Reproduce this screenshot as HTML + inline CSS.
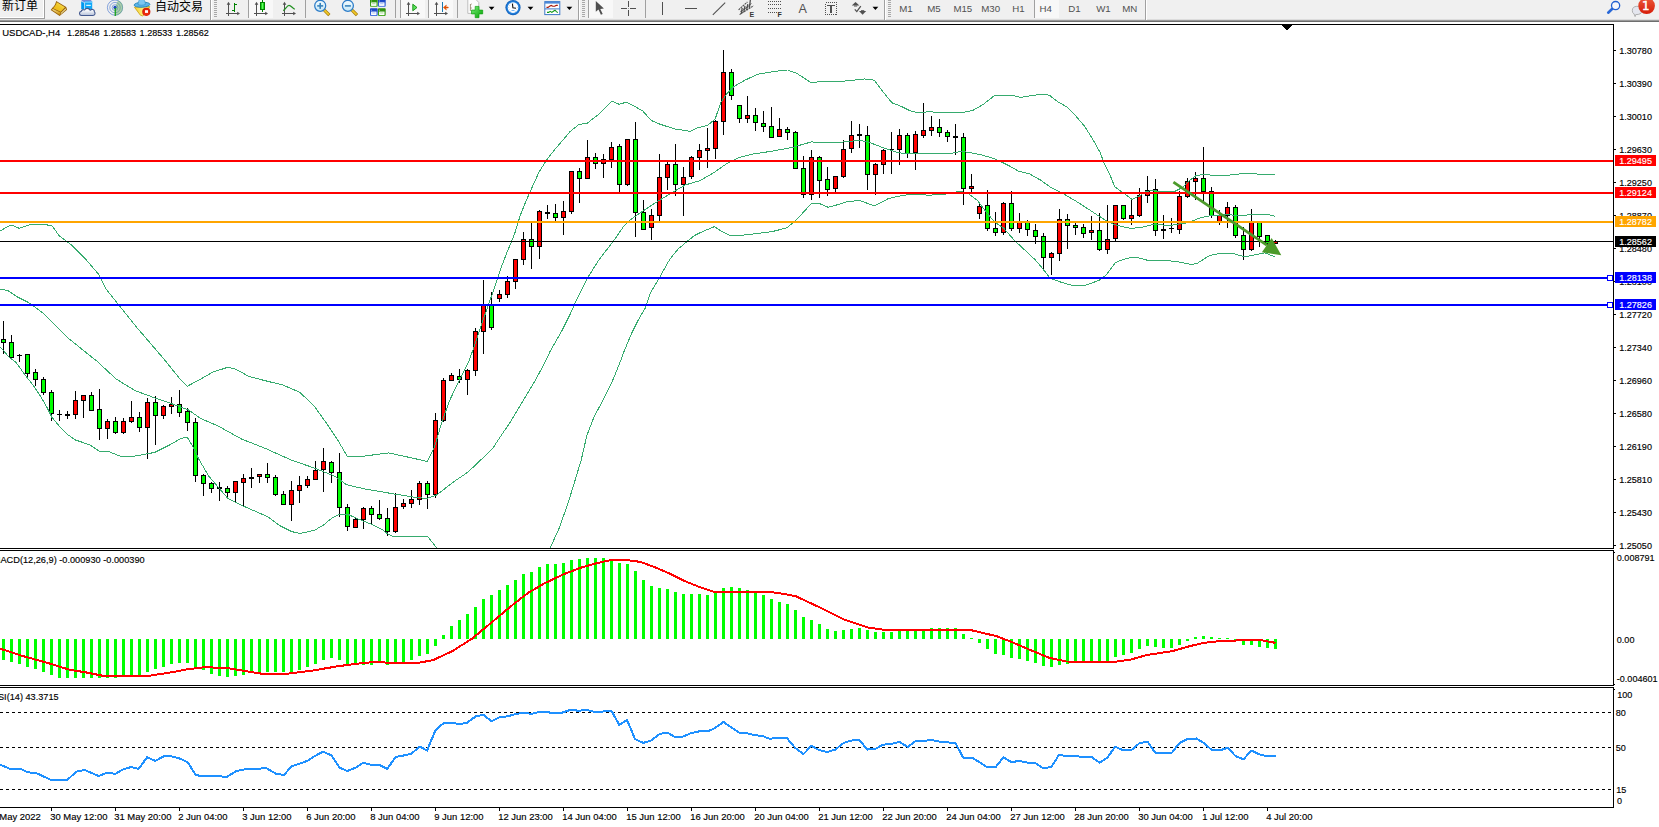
<!DOCTYPE html>
<html><head><meta charset="utf-8"><title>USDCAD-,H4</title>
<style>
html,body{margin:0;padding:0;background:#fff}
body{width:1659px;height:827px;overflow:hidden;position:relative;font-family:"Liberation Sans","Noto Sans CJK SC",sans-serif}
#chart{position:absolute;left:0;top:0}
</style></head><body>
<svg id="chart" width="1659" height="827" viewBox="0 0 1659 827">
<defs>
<linearGradient id="gold" x1="0" y1="0" x2="1" y2="1"><stop offset="0" stop-color="#f8d040"/><stop offset="0.5" stop-color="#f0b800"/><stop offset="1" stop-color="#c08818"/></linearGradient>
<linearGradient id="lens" x1="0" y1="0" x2="0" y2="1"><stop offset="0" stop-color="#f4fcff"/><stop offset="1" stop-color="#c4e6f6"/></linearGradient>
<linearGradient id="badge" x1="0" y1="0" x2="0" y2="1"><stop offset="0" stop-color="#ec5a3a"/><stop offset="1" stop-color="#d61c08"/></linearGradient>
<linearGradient id="gcan" x1="0" y1="0" x2="1" y2="0"><stop offset="0" stop-color="#00c000"/><stop offset="0.5" stop-color="#60ff60"/><stop offset="1" stop-color="#00c000"/></linearGradient>
<linearGradient id="gplus" x1="0" y1="0" x2="1" y2="1"><stop offset="0" stop-color="#7cf07c"/><stop offset="1" stop-color="#00a000"/></linearGradient>
<linearGradient id="bluet" x1="0" y1="0" x2="0" y2="1"><stop offset="0" stop-color="#1440c0"/><stop offset="1" stop-color="#3c6ce0"/></linearGradient>
<linearGradient id="greent" x1="0" y1="0" x2="0" y2="1"><stop offset="0" stop-color="#2a8c0c"/><stop offset="1" stop-color="#40a81c"/></linearGradient>
<radialGradient id="clockr" cx="0.5" cy="0.5" r="0.5"><stop offset="0.7" stop-color="#2a8ae6"/><stop offset="1" stop-color="#0c5cb8"/></radialGradient>
</defs>
<g shape-rendering="crispEdges">
<rect x="0" y="0" width="1659" height="19" fill="#f0f0f0"/>
<rect x="0" y="19" width="1659" height="1" fill="#dcdcdc"/>
<rect x="0" y="20" width="1659" height="1" fill="#9a9a9a"/>
<rect x="0" y="21" width="1659" height="1" fill="#6e6e6e"/>
<rect x="0" y="22" width="1659" height="2" fill="#ffffff"/>
<rect x="0" y="17" width="44" height="1" fill="#ffffff"/>
<rect x="43" y="0" width="1" height="18" fill="#ffffff"/>
<rect x="0" y="18" width="45" height="1" fill="#a0a0a0"/>
<rect x="44" y="0" width="1" height="19" fill="#a0a0a0"/>
<rect x="210" y="0" width="1" height="20" fill="#a0a0a0"/>
<rect x="211" y="0" width="1" height="20" fill="#ffffff"/>
<rect x="214" y="0" width="3" height="1" fill="#a8a8a8"/>
<rect x="214" y="2" width="3" height="1" fill="#a8a8a8"/>
<rect x="214" y="4" width="3" height="1" fill="#a8a8a8"/>
<rect x="214" y="6" width="3" height="1" fill="#a8a8a8"/>
<rect x="214" y="8" width="3" height="1" fill="#a8a8a8"/>
<rect x="214" y="10" width="3" height="1" fill="#a8a8a8"/>
<rect x="214" y="12" width="3" height="1" fill="#a8a8a8"/>
<rect x="214" y="14" width="3" height="1" fill="#a8a8a8"/>
<rect x="214" y="16" width="3" height="1" fill="#a8a8a8"/>
<rect x="248" y="0" width="1" height="18" fill="#a0a0a0"/>
<rect x="249" y="0" width="24" height="18" fill="#f8f8f8"/>
<rect x="305" y="0" width="1" height="18" fill="#a0a0a0"/>
<rect x="395" y="0" width="1" height="18" fill="#a0a0a0"/>
<rect x="400" y="0" width="1" height="18" fill="#a0a0a0"/>
<rect x="401" y="0" width="24" height="18" fill="#f8f8f8"/>
<rect x="428" y="0" width="1" height="18" fill="#a0a0a0"/>
<rect x="429" y="0" width="24" height="18" fill="#f8f8f8"/>
<rect x="457" y="0" width="1" height="18" fill="#a0a0a0"/>
<rect x="578" y="0" width="1" height="20" fill="#a0a0a0"/>
<rect x="579" y="0" width="1" height="20" fill="#ffffff"/>
<rect x="582" y="0" width="3" height="1" fill="#a8a8a8"/>
<rect x="582" y="2" width="3" height="1" fill="#a8a8a8"/>
<rect x="582" y="4" width="3" height="1" fill="#a8a8a8"/>
<rect x="582" y="6" width="3" height="1" fill="#a8a8a8"/>
<rect x="582" y="8" width="3" height="1" fill="#a8a8a8"/>
<rect x="582" y="10" width="3" height="1" fill="#a8a8a8"/>
<rect x="582" y="12" width="3" height="1" fill="#a8a8a8"/>
<rect x="582" y="14" width="3" height="1" fill="#a8a8a8"/>
<rect x="582" y="16" width="3" height="1" fill="#a8a8a8"/>
<rect x="588" y="0" width="1" height="18" fill="#a0a0a0"/>
<rect x="589" y="0" width="24" height="18" fill="#f8f8f8"/>
<rect x="645" y="0" width="1" height="18" fill="#a0a0a0"/>
<rect x="884" y="0" width="1" height="20" fill="#a0a0a0"/>
<rect x="885" y="0" width="1" height="20" fill="#ffffff"/>
<rect x="888" y="0" width="3" height="1" fill="#a8a8a8"/>
<rect x="888" y="2" width="3" height="1" fill="#a8a8a8"/>
<rect x="888" y="4" width="3" height="1" fill="#a8a8a8"/>
<rect x="888" y="6" width="3" height="1" fill="#a8a8a8"/>
<rect x="888" y="8" width="3" height="1" fill="#a8a8a8"/>
<rect x="888" y="10" width="3" height="1" fill="#a8a8a8"/>
<rect x="888" y="12" width="3" height="1" fill="#a8a8a8"/>
<rect x="888" y="14" width="3" height="1" fill="#a8a8a8"/>
<rect x="888" y="16" width="3" height="1" fill="#a8a8a8"/>
<rect x="1034" y="0" width="1" height="18" fill="#a0a0a0"/>
<rect x="1035" y="0" width="24" height="18" fill="#f8f8f8"/>
<rect x="1145" y="0" width="1" height="20" fill="#a0a0a0"/>
<rect x="1146" y="0" width="1" height="20" fill="#ffffff"/>
</g>
<g font-family="Liberation Sans, Noto Sans CJK SC, sans-serif" font-size="12" fill="#000">
<text x="2" y="9.6">新订单</text>
<text x="155" y="10.6">自动交易</text>
</g>
<linearGradient id="gface" x1="0" y1="1" x2="1" y2="0"><stop offset="0" stop-color="#e8b010"/><stop offset="0.55" stop-color="#f0c828"/><stop offset="1" stop-color="#fff080"/></linearGradient>
<linearGradient id="gspine" x1="0" y1="0" x2="0.4" y2="1"><stop offset="0" stop-color="#f8e498"/><stop offset="1" stop-color="#d09a18"/></linearGradient>
<path d="M56.2,0.9 L66.2,6.9 L67.1,9.7 L59.6,16 L50.7,9.9 L52.6,7.6 C54.6,6 55.4,3.6 56.2,0.9 Z" fill="#96600a"/>
<path d="M56.8,2.3 L64.9,7.3 L60.7,11.7 L53,8.3 C55,6.6 56,4.6 56.8,2.3 Z" fill="url(#gface)"/>
<path d="M51.9,9.7 L53,8.9 L60.5,12.4 L59.5,14.9 Z" fill="url(#gspine)"/>
<path d="M61.2,12.6 L65.5,8.2 L66.2,9.6 L60.3,14.8 Z" fill="#e6d48c"/>
<linearGradient id="cloud" x1="0" y1="0" x2="0" y2="1"><stop offset="0.2" stop-color="#ffffff"/><stop offset="1" stop-color="#b4c0d8"/></linearGradient>
<path d="M81.2,1.2 L84.6,2.6 L84.6,10 L81.2,9 Z" fill="#0098f0"/>
<path d="M81.2,1.2 L84.6,2.6 L92.2,1.4 L90,-1 L82.5,-1 Z" fill="#7088d8"/>
<rect x="84.8" y="1.6" width="7.4" height="8" fill="#10a8f8"/>
<rect x="84.8" y="1.4" width="7.4" height="1.6" fill="#60c8ff"/>
<path d="M81.4,1.3 L84.6,2.7 L84.6,9.6" fill="none" stroke="#e8f8ff" stroke-width="0.6"/>
<rect x="86.2" y="4.8" width="4.6" height="1.1" fill="#f0faff"/>
<path d="M81.5,15.5 C79.2,15.5 78.5,12 81.2,11.4 C81.4,9.8 83.5,9.4 84.8,9.9 C85.6,8 88.9,7.7 90.2,10.3 C91.6,8.6 94.7,9.3 94.4,11.9 C95.7,13 95,15.5 92.8,15.5 Z" fill="url(#cloud)" stroke="#44598f" stroke-width="1.1" stroke-linejoin="round"/>
<g fill="none" stroke-width="1">
<circle cx="115" cy="7.6" r="7.6" stroke="#2860c8" stroke-opacity="0.55"/>
<circle cx="115" cy="7.6" r="5.2" stroke="#2860c8" stroke-opacity="0.5"/>
<circle cx="115" cy="7.6" r="2.9" stroke="#2860c8" stroke-opacity="0.5"/>
</g>
<path d="M115,7.6 L115,15.6 A8,8 0 0 0 123,7.6 A8,8 0 0 0 118,0.3 Z" fill="#58a858" fill-opacity="0.45"/>
<circle cx="115" cy="7.4" r="1.6" fill="#1848c0"/>
<rect x="114.6" y="8" width="1.3" height="8" fill="#18a018"/>
<linearGradient id="cone" x1="0" y1="0" x2="1" y2="0"><stop offset="0" stop-color="#f4cc30"/><stop offset="0.7" stop-color="#fff88c"/><stop offset="1" stop-color="#f0c020"/></linearGradient>
<path d="M134.4,7.2 L149.7,6.5 L147,12.6 L142.6,15.9 L140.4,15.2 Z" fill="url(#cone)" stroke="#c8a010" stroke-width="0.8" stroke-linejoin="round"/>
<ellipse cx="142" cy="4.7" rx="7.9" ry="2.5" fill="#5cb4ea" stroke="#2484b8" stroke-width="0.9" transform="rotate(-3 142 4.7)"/>
<path d="M138,4.6 C138,2.4 138.9,0.5 139.6,-0.6 L143.7,-0.6 C144.5,0.5 145.4,2.4 145.4,4.4 C143,5.4 140.4,5.4 138,4.6 Z" fill="#7cc6f2" stroke="#2c8cc0" stroke-width="0.6"/>
<circle cx="146.3" cy="11.8" r="4.1" fill="#d82008"/>
<circle cx="146.3" cy="12.4" r="3" fill="#f03010" fill-opacity="0.8"/>
<rect x="145" y="10.2" width="3" height="2.7" fill="#fff"/>
<g fill="#505050" stroke="none" shape-rendering="crispEdges"><rect x="228" y="3" width="1" height="13"/><rect x="226" y="13" width="13" height="1"/></g>
<polygon points="228.5,1.8 226.7,4.8 230.3,4.8" fill="#505050"/>
<polygon points="240.0,13.5 237.2,11.7 237.2,15.3" fill="#505050"/>
<g fill="#008000" shape-rendering="crispEdges"><rect x="234" y="3" width="1" height="9"/><rect x="235" y="4" width="2" height="1"/><rect x="232" y="10" width="2" height="1"/></g>
<g fill="#505050" stroke="none" shape-rendering="crispEdges"><rect x="256" y="3" width="1" height="13"/><rect x="254" y="13" width="13" height="1"/></g>
<polygon points="256.5,1.8 254.7,4.8 258.3,4.8" fill="#505050"/>
<polygon points="268.0,13.5 265.2,11.7 265.2,15.3" fill="#505050"/>
<g shape-rendering="crispEdges"><rect x="262" y="0" width="1" height="12" fill="#008000"/><rect x="260" y="2" width="5" height="8" fill="#008000"/><rect x="261" y="3" width="3" height="6" fill="url(#gcan)"/></g>
<g fill="#505050" stroke="none" shape-rendering="crispEdges"><rect x="284" y="3" width="1" height="13"/><rect x="282" y="13" width="13" height="1"/></g>
<polygon points="284.5,1.8 282.7,4.8 286.3,4.8" fill="#505050"/>
<polygon points="296.0,13.5 293.2,11.7 293.2,15.3" fill="#505050"/>
<path d="M283.2,10.6 C285.5,9.5 287,5.4 289,5.4 C291,5.4 292.5,8.2 294.8,9.2" fill="none" stroke="#209020" stroke-width="1.2"/>
<line x1="324.5" y1="10.3" x2="328.2" y2="14.0" stroke="#a07808" stroke-width="3.2" stroke-linecap="square"/>
<line x1="324.5" y1="10.3" x2="328.2" y2="14.0" stroke="#f0c828" stroke-width="1.9" stroke-linecap="square"/>
<circle cx="320.2" cy="5.8" r="5.5" fill="url(#lens)" stroke="#2c7cc8" stroke-width="1.25"/>
<rect x="317.2" y="5.1" width="6" height="1.6" fill="#3a84bc"/>
<rect x="319.4" y="2.9" width="1.6" height="6" fill="#3a84bc"/>
<line x1="352.2" y1="10.3" x2="355.9" y2="14.0" stroke="#a07808" stroke-width="3.2" stroke-linecap="square"/>
<line x1="352.2" y1="10.3" x2="355.9" y2="14.0" stroke="#f0c828" stroke-width="1.9" stroke-linecap="square"/>
<circle cx="347.9" cy="5.8" r="5.5" fill="url(#lens)" stroke="#2c7cc8" stroke-width="1.25"/>
<rect x="344.9" y="5.1" width="6" height="1.6" fill="#3a84bc"/>
<rect x="370.0" y="-1.0" width="7.7" height="7.7" rx="0.8" fill="url(#greent)"/>
<rect x="371.1" y="2.4" width="5.4" height="3.5" fill="#fff"/>
<rect x="372.1" y="3.3" width="3.4" height="0.9" fill="#4cb828" fill-opacity="0.55"/>
<rect x="371.2" y="0.6" width="0.8" height="0.8" fill="#fff" fill-opacity="0.8"/>
<rect x="378.0" y="-1.0" width="7.7" height="7.7" rx="0.8" fill="url(#bluet)"/>
<rect x="379.1" y="2.4" width="5.4" height="3.5" fill="#fff"/>
<rect x="380.1" y="3.3" width="3.4" height="0.9" fill="#4a80e8" fill-opacity="0.55"/>
<rect x="379.2" y="0.6" width="0.8" height="0.8" fill="#fff" fill-opacity="0.8"/>
<rect x="370.0" y="8.2" width="7.7" height="7.7" rx="0.8" fill="url(#bluet)"/>
<rect x="371.1" y="11.6" width="5.4" height="3.5" fill="#fff"/>
<rect x="372.1" y="12.5" width="3.4" height="0.9" fill="#4a80e8" fill-opacity="0.55"/>
<rect x="371.2" y="9.8" width="0.8" height="0.8" fill="#fff" fill-opacity="0.8"/>
<rect x="378.0" y="8.2" width="7.7" height="7.7" rx="0.8" fill="url(#greent)"/>
<rect x="379.1" y="11.6" width="5.4" height="3.5" fill="#fff"/>
<rect x="380.1" y="12.5" width="3.4" height="0.9" fill="#4cb828" fill-opacity="0.55"/>
<rect x="379.2" y="9.8" width="0.8" height="0.8" fill="#fff" fill-opacity="0.8"/>
<g fill="#505050" stroke="none" shape-rendering="crispEdges"><rect x="408" y="3" width="1" height="13"/><rect x="406" y="13" width="13" height="1"/></g>
<polygon points="408.5,1.8 406.7,4.8 410.3,4.8" fill="#505050"/>
<polygon points="420.0,13.5 417.2,11.7 417.2,15.3" fill="#505050"/>
<polygon points="412.8,4.2 417,7.5 412.8,10.8" fill="#58e058" stroke="#109010" stroke-width="0.9"/>
<g fill="#505050" stroke="none" shape-rendering="crispEdges"><rect x="436" y="3" width="1" height="13"/><rect x="434" y="13" width="13" height="1"/></g>
<polygon points="436.5,1.8 434.7,4.8 438.3,4.8" fill="#505050"/>
<polygon points="448.0,13.5 445.2,11.7 445.2,15.3" fill="#505050"/>
<rect x="442" y="2" width="1" height="10" fill="#1878b0" shape-rendering="crispEdges"/>
<polygon points="443.4,7.5 446.4,5 445.8,7 448.2,7 448.2,8 445.8,8 446.4,10" fill="#e05000" stroke="#e05000" stroke-width="0.5"/>
<path d="M467.8,-1 L475.5,-1 L478.8,2.5 L478.8,13.4 L467.8,13.4 Z" fill="#fdfdfd" stroke="#b8b8b8" stroke-width="0.9"/>
<path d="M470.4,4 l0,7 M470.4,5 l1.4,-1.2 M470.4,8 l1.4,0" stroke="#807050" stroke-width="0.7" fill="none"/>
<path d="M475.2,6.4 h3.8 v3.7 h3.7 v3.8 h-3.7 v3.8 h-3.8 v-3.8 h-3.7 v-3.8 h3.7 z" fill="url(#gplus)" stroke="#10a010" stroke-width="0.7"/>
<polygon points="488.7,6.7 494.5,6.7 491.6,10" fill="#000"/>
<circle cx="513" cy="7.6" r="7.6" fill="url(#clockr)"/>
<circle cx="513" cy="7.6" r="5.3" fill="#fafcff"/>
<path d="M512.4,3.6 L512.9,7.8 L516,8.2" fill="none" stroke="#101010" stroke-width="1.1"/>
<g fill="#8090a0"><circle cx="513" cy="3.2" r="0.4"/><circle cx="517.4" cy="7.6" r="0.4"/><circle cx="508.6" cy="7.6" r="0.4"/><circle cx="510.8" cy="3.8" r="0.3"/><circle cx="509.2" cy="5.4" r="0.3"/><circle cx="509.2" cy="9.8" r="0.3"/><circle cx="510.8" cy="11.4" r="0.3"/><circle cx="515.2" cy="11.4" r="0.3"/><circle cx="516.8" cy="9.8" r="0.3"/></g>
<rect x="511.5" y="10.2" width="3" height="0.8" fill="#58a8f0"/>
<polygon points="527.6,6.7 533.4,6.7 530.5,10" fill="#000"/>
<rect x="544.8" y="1.6" width="15" height="13" fill="#fff" stroke="#3c78c8" stroke-width="1"/>
<rect x="545" y="1.6" width="14.6" height="2" fill="#4a88d8"/>
<rect x="545" y="8.4" width="14.6" height="1" fill="#3c78c8"/>
<polyline points="546.5,7.4 548,7.4 549.6,6.2 551.2,5.4 552.8,6.2 554.6,6.2 556.2,5.4 557.8,5.4" fill="none" stroke="#a81808" stroke-width="1.1"/>
<polyline points="547,12.4 548.6,12.4 550.2,11.4 551.8,12.4 553.4,11.2 555,10.2 556.4,11.6 557.8,12.6" fill="none" stroke="#109818" stroke-width="1.1"/>
<polygon points="566.5,6.7 572.3,6.7 569.4,10" fill="#000"/>
<polygon points="595.8,0.9 595.8,11.8 598.5,9.6 600.9,14.8 602.7,13.9 600.3,9 603.9,8.4" fill="#505050"/>
<g fill="#505050" shape-rendering="crispEdges"><rect x="621" y="8" width="6" height="1"/><rect x="630" y="8" width="6" height="1"/><rect x="628" y="1" width="1" height="6"/><rect x="628" y="10" width="1" height="6"/><rect x="628" y="8" width="1" height="1" fill-opacity="0.5"/></g>
<g fill="#505050" shape-rendering="crispEdges"><rect x="662" y="2" width="1" height="13"/><rect x="685" y="8" width="12" height="1"/></g>
<line x1="712.8" y1="14.8" x2="725.2" y2="2.7" stroke="#505050" stroke-width="1.1"/>
<g stroke="#505050" fill="none"><line x1="738.6" y1="9.8" x2="747.4" y2="2.0" stroke-width="1.1" stroke-dasharray="2,0.7"/><line x1="739.6" y1="14.6" x2="753.4" y2="5.8" stroke-width="1.1" stroke-dasharray="2,0.7"/><path d="M741.2,14 L742.2,8 M743.8,12 L745,6 M746.6,10.2 L747.8,4.2 M749.4,8 L750.4,-0.5" stroke-width="1.3"/><path d="M740.4,11.4 L743,10.6 M743,9.4 L745.8,8.6 M745.8,7.6 L748.6,6.6 M748.6,5.4 L751.4,3.6" stroke-width="1"/></g>
<text x="749.6" y="16.9" font-family="Liberation Sans, sans-serif" font-weight="bold" font-size="7" fill="#383838">E</text>
<g stroke="#505050" stroke-width="1" stroke-dasharray="1,1" fill="none" shape-rendering="crispEdges"><line x1="768" y1="1.5" x2="782" y2="1.5"/><line x1="768" y1="4.5" x2="782" y2="4.5"/><line x1="768" y1="8.5" x2="782" y2="8.5"/><line x1="768" y1="12.5" x2="777" y2="12.5"/></g>
<text x="777.6" y="16.9" font-family="Liberation Sans, sans-serif" font-weight="bold" font-size="7" fill="#303030">F</text>
<text x="798.5" y="13" font-family="Liberation Sans, sans-serif" font-size="12.6" fill="#505050">A</text>
<rect x="825.5" y="2.5" width="11" height="12" fill="none" stroke="#505050" stroke-width="1" stroke-dasharray="1,1" shape-rendering="crispEdges"/>
<g fill="#505050" shape-rendering="crispEdges"><rect x="827" y="5" width="8" height="1.4"/><rect x="830.3" y="5" width="1.5" height="8"/></g>
<polygon points="855.5,2 859.4,5.6 851.8,5.6" fill="#505050"/><rect x="854" y="5.6" width="3.2" height="0.9" fill="#505050"/>
<polyline points="854.8,9.4 856.8,11.6 860.8,6.2" fill="none" stroke="#505050" stroke-width="1.3"/>
<polygon points="862.6,14.8 866.2,11 859,11" fill="#505050"/><rect x="861" y="10.2" width="3.2" height="0.9" fill="#505050"/>
<polygon points="872.5,6.7 878.3,6.7 875.4,10" fill="#000"/>
<g font-family="Liberation Sans, sans-serif" font-size="9.7" fill="#505050">
<text x="899.3" y="12">M1</text>
<text x="927.3" y="12">M5</text>
<text x="953.4" y="12">M15</text>
<text x="981.3" y="12">M30</text>
<text x="1012.2" y="12">H1</text>
<text x="1039.4" y="12">H4</text>
<text x="1068.3" y="12">D1</text>
<text x="1096.2" y="12">W1</text>
<text x="1122.3" y="12">MN</text>
</g>
<line x1="1612.3" y1="8.7" x2="1608.2" y2="12.7" stroke="#2868d8" stroke-width="2.6" stroke-linecap="round"/>
<circle cx="1615.6" cy="5.6" r="4.1" fill="#f4f6fa" stroke="#2060d0" stroke-width="1.3"/>
<path d="M1632.3,10.4 a4.8,4.1 0 1 1 6,4 l-2.6,0.2 l-0.6,2 l-1,-2.6 a4.6,4 0 0 1 -1.8,-3.6 z" fill="#e4e6ee" stroke="#a8a8a8" stroke-width="0.9"/>
<circle cx="1646.6" cy="5.8" r="8.3" fill="url(#badge)"/>
<text x="1642.1" y="10.1" font-family="DejaVu Sans, Liberation Sans, sans-serif" font-size="11.8" fill="#fff" stroke="#fff" stroke-width="0.45">1</text>
<g shape-rendering="crispEdges" fill="#000">
<rect x="0" y="24" width="1614" height="1"/>
<rect x="1613" y="24" width="1" height="525"/>
<rect x="0" y="548" width="1614" height="1"/>
<rect x="0" y="550" width="1614" height="1"/>
<rect x="1613" y="550" width="1" height="136"/>
<rect x="0" y="685" width="1614" height="1"/>
<rect x="0" y="687" width="1614" height="1"/>
<rect x="1613" y="687" width="1" height="121"/>
<rect x="0" y="807" width="1614" height="1"/>
<polygon points="1281,25 1292,25 1286.5,30.5"/>
</g>
<g shape-rendering="crispEdges">
<rect x="3" y="321" width="1" height="33" fill="#000"/>
<rect x="1" y="339" width="5" height="4" fill="#000"/>
<rect x="2" y="340" width="3" height="2" fill="#00ff00"/>
<rect x="11" y="335" width="1" height="24" fill="#000"/>
<rect x="9" y="342" width="5" height="16" fill="#000"/>
<rect x="10" y="343" width="3" height="14" fill="#00ff00"/>
<rect x="19" y="354" width="1" height="8" fill="#000"/>
<rect x="17" y="355" width="5" height="1" fill="#000"/>
<rect x="27" y="354" width="1" height="23" fill="#000"/>
<rect x="25" y="354" width="5" height="20" fill="#000"/>
<rect x="26" y="355" width="3" height="18" fill="#00ff00"/>
<rect x="35" y="369" width="1" height="17" fill="#000"/>
<rect x="33" y="372" width="5" height="8" fill="#000"/>
<rect x="34" y="373" width="3" height="6" fill="#00ff00"/>
<rect x="43" y="377" width="1" height="18" fill="#000"/>
<rect x="41" y="379" width="5" height="14" fill="#000"/>
<rect x="42" y="380" width="3" height="12" fill="#00ff00"/>
<rect x="51" y="390" width="1" height="31" fill="#000"/>
<rect x="49" y="392" width="5" height="22" fill="#000"/>
<rect x="50" y="393" width="3" height="20" fill="#00ff00"/>
<rect x="59" y="410" width="1" height="11" fill="#000"/>
<rect x="57" y="414" width="5" height="1" fill="#000"/>
<rect x="67" y="411" width="1" height="8" fill="#000"/>
<rect x="65" y="414" width="5" height="2" fill="#000"/>
<rect x="75" y="391" width="1" height="28" fill="#000"/>
<rect x="73" y="400" width="5" height="15" fill="#000"/>
<rect x="74" y="401" width="3" height="13" fill="#ff0000"/>
<rect x="83" y="395" width="1" height="23" fill="#000"/>
<rect x="81" y="395" width="5" height="6" fill="#000"/>
<rect x="82" y="396" width="3" height="4" fill="#ff0000"/>
<rect x="91" y="392" width="1" height="19" fill="#000"/>
<rect x="89" y="395" width="5" height="16" fill="#000"/>
<rect x="90" y="396" width="3" height="14" fill="#00ff00"/>
<rect x="99" y="389" width="1" height="51" fill="#000"/>
<rect x="97" y="409" width="5" height="20" fill="#000"/>
<rect x="98" y="410" width="3" height="18" fill="#00ff00"/>
<rect x="107" y="419" width="1" height="20" fill="#000"/>
<rect x="105" y="421" width="5" height="8" fill="#000"/>
<rect x="106" y="422" width="3" height="6" fill="#ff0000"/>
<rect x="115" y="417" width="1" height="17" fill="#000"/>
<rect x="113" y="421" width="5" height="12" fill="#000"/>
<rect x="114" y="422" width="3" height="10" fill="#00ff00"/>
<rect x="123" y="418" width="1" height="16" fill="#000"/>
<rect x="121" y="421" width="5" height="12" fill="#000"/>
<rect x="122" y="422" width="3" height="10" fill="#ff0000"/>
<rect x="131" y="401" width="1" height="22" fill="#000"/>
<rect x="129" y="417" width="5" height="5" fill="#000"/>
<rect x="130" y="418" width="3" height="3" fill="#ff0000"/>
<rect x="139" y="412" width="1" height="20" fill="#000"/>
<rect x="137" y="417" width="5" height="11" fill="#000"/>
<rect x="138" y="418" width="3" height="9" fill="#00ff00"/>
<rect x="147" y="398" width="1" height="61" fill="#000"/>
<rect x="145" y="402" width="5" height="26" fill="#000"/>
<rect x="146" y="403" width="3" height="24" fill="#ff0000"/>
<rect x="155" y="396" width="1" height="49" fill="#000"/>
<rect x="153" y="402" width="5" height="14" fill="#000"/>
<rect x="154" y="403" width="3" height="12" fill="#00ff00"/>
<rect x="163" y="405" width="1" height="14" fill="#000"/>
<rect x="161" y="406" width="5" height="10" fill="#000"/>
<rect x="162" y="407" width="3" height="8" fill="#ff0000"/>
<rect x="171" y="397" width="1" height="17" fill="#000"/>
<rect x="169" y="404" width="5" height="3" fill="#000"/>
<rect x="170" y="405" width="3" height="1" fill="#ff0000"/>
<rect x="179" y="390" width="1" height="27" fill="#000"/>
<rect x="177" y="404" width="5" height="9" fill="#000"/>
<rect x="178" y="405" width="3" height="7" fill="#00ff00"/>
<rect x="187" y="408" width="1" height="23" fill="#000"/>
<rect x="185" y="411" width="5" height="12" fill="#000"/>
<rect x="186" y="412" width="3" height="10" fill="#00ff00"/>
<rect x="195" y="418" width="1" height="64" fill="#000"/>
<rect x="193" y="422" width="5" height="54" fill="#000"/>
<rect x="194" y="423" width="3" height="52" fill="#00ff00"/>
<rect x="203" y="474" width="1" height="22" fill="#000"/>
<rect x="201" y="475" width="5" height="9" fill="#000"/>
<rect x="202" y="476" width="3" height="7" fill="#00ff00"/>
<rect x="211" y="482" width="1" height="11" fill="#000"/>
<rect x="209" y="483" width="5" height="6" fill="#000"/>
<rect x="210" y="484" width="3" height="4" fill="#00ff00"/>
<rect x="219" y="482" width="1" height="19" fill="#000"/>
<rect x="217" y="487" width="5" height="2" fill="#000"/>
<rect x="227" y="486" width="1" height="11" fill="#000"/>
<rect x="225" y="488" width="5" height="5" fill="#000"/>
<rect x="226" y="489" width="3" height="3" fill="#00ff00"/>
<rect x="235" y="481" width="1" height="21" fill="#000"/>
<rect x="233" y="481" width="5" height="12" fill="#000"/>
<rect x="234" y="482" width="3" height="10" fill="#ff0000"/>
<rect x="243" y="474" width="1" height="32" fill="#000"/>
<rect x="241" y="478" width="5" height="5" fill="#000"/>
<rect x="242" y="479" width="3" height="3" fill="#ff0000"/>
<rect x="251" y="468" width="1" height="20" fill="#000"/>
<rect x="249" y="477" width="5" height="2" fill="#000"/>
<rect x="259" y="474" width="1" height="9" fill="#000"/>
<rect x="257" y="474" width="5" height="3" fill="#000"/>
<rect x="258" y="475" width="3" height="1" fill="#ff0000"/>
<rect x="267" y="463" width="1" height="20" fill="#000"/>
<rect x="265" y="474" width="5" height="4" fill="#000"/>
<rect x="266" y="475" width="3" height="2" fill="#00ff00"/>
<rect x="275" y="475" width="1" height="21" fill="#000"/>
<rect x="273" y="477" width="5" height="18" fill="#000"/>
<rect x="274" y="478" width="3" height="16" fill="#00ff00"/>
<rect x="283" y="491" width="1" height="14" fill="#000"/>
<rect x="281" y="494" width="5" height="11" fill="#000"/>
<rect x="282" y="495" width="3" height="9" fill="#00ff00"/>
<rect x="291" y="481" width="1" height="40" fill="#000"/>
<rect x="289" y="490" width="5" height="15" fill="#000"/>
<rect x="290" y="491" width="3" height="13" fill="#ff0000"/>
<rect x="299" y="476" width="1" height="27" fill="#000"/>
<rect x="297" y="485" width="5" height="6" fill="#000"/>
<rect x="298" y="486" width="3" height="4" fill="#ff0000"/>
<rect x="307" y="476" width="1" height="12" fill="#000"/>
<rect x="305" y="479" width="5" height="7" fill="#000"/>
<rect x="306" y="480" width="3" height="5" fill="#ff0000"/>
<rect x="315" y="461" width="1" height="19" fill="#000"/>
<rect x="313" y="470" width="5" height="10" fill="#000"/>
<rect x="314" y="471" width="3" height="8" fill="#ff0000"/>
<rect x="323" y="448" width="1" height="44" fill="#000"/>
<rect x="321" y="461" width="5" height="9" fill="#000"/>
<rect x="322" y="462" width="3" height="7" fill="#ff0000"/>
<rect x="331" y="461" width="1" height="22" fill="#000"/>
<rect x="329" y="462" width="5" height="11" fill="#000"/>
<rect x="330" y="463" width="3" height="9" fill="#00ff00"/>
<rect x="339" y="453" width="1" height="64" fill="#000"/>
<rect x="337" y="472" width="5" height="36" fill="#000"/>
<rect x="338" y="473" width="3" height="34" fill="#00ff00"/>
<rect x="347" y="504" width="1" height="27" fill="#000"/>
<rect x="345" y="507" width="5" height="20" fill="#000"/>
<rect x="346" y="508" width="3" height="18" fill="#00ff00"/>
<rect x="355" y="517" width="1" height="11" fill="#000"/>
<rect x="353" y="519" width="5" height="9" fill="#000"/>
<rect x="354" y="520" width="3" height="7" fill="#ff0000"/>
<rect x="363" y="507" width="1" height="22" fill="#000"/>
<rect x="361" y="508" width="5" height="12" fill="#000"/>
<rect x="362" y="509" width="3" height="10" fill="#ff0000"/>
<rect x="371" y="506" width="1" height="18" fill="#000"/>
<rect x="369" y="508" width="5" height="7" fill="#000"/>
<rect x="370" y="509" width="3" height="5" fill="#00ff00"/>
<rect x="379" y="500" width="1" height="20" fill="#000"/>
<rect x="377" y="514" width="5" height="5" fill="#000"/>
<rect x="378" y="515" width="3" height="3" fill="#00ff00"/>
<rect x="387" y="508" width="1" height="28" fill="#000"/>
<rect x="385" y="518" width="5" height="14" fill="#000"/>
<rect x="386" y="519" width="3" height="12" fill="#00ff00"/>
<rect x="395" y="493" width="1" height="40" fill="#000"/>
<rect x="393" y="507" width="5" height="25" fill="#000"/>
<rect x="394" y="508" width="3" height="23" fill="#ff0000"/>
<rect x="403" y="499" width="1" height="10" fill="#000"/>
<rect x="401" y="503" width="5" height="4" fill="#000"/>
<rect x="402" y="504" width="3" height="2" fill="#ff0000"/>
<rect x="411" y="490" width="1" height="18" fill="#000"/>
<rect x="409" y="499" width="5" height="5" fill="#000"/>
<rect x="410" y="500" width="3" height="3" fill="#ff0000"/>
<rect x="419" y="481" width="1" height="24" fill="#000"/>
<rect x="417" y="483" width="5" height="17" fill="#000"/>
<rect x="418" y="484" width="3" height="15" fill="#ff0000"/>
<rect x="427" y="481" width="1" height="28" fill="#000"/>
<rect x="425" y="483" width="5" height="12" fill="#000"/>
<rect x="426" y="484" width="3" height="10" fill="#00ff00"/>
<rect x="435" y="413" width="1" height="85" fill="#000"/>
<rect x="433" y="420" width="5" height="75" fill="#000"/>
<rect x="434" y="421" width="3" height="73" fill="#ff0000"/>
<rect x="443" y="378" width="1" height="44" fill="#000"/>
<rect x="441" y="380" width="5" height="41" fill="#000"/>
<rect x="442" y="381" width="3" height="39" fill="#ff0000"/>
<rect x="451" y="373" width="1" height="8" fill="#000"/>
<rect x="449" y="375" width="5" height="6" fill="#000"/>
<rect x="450" y="376" width="3" height="4" fill="#ff0000"/>
<rect x="459" y="369" width="1" height="14" fill="#000"/>
<rect x="457" y="376" width="5" height="4" fill="#000"/>
<rect x="458" y="377" width="3" height="2" fill="#00ff00"/>
<rect x="467" y="369" width="1" height="26" fill="#000"/>
<rect x="465" y="370" width="5" height="10" fill="#000"/>
<rect x="466" y="371" width="3" height="8" fill="#ff0000"/>
<rect x="475" y="328" width="1" height="48" fill="#000"/>
<rect x="473" y="331" width="5" height="40" fill="#000"/>
<rect x="474" y="332" width="3" height="38" fill="#ff0000"/>
<rect x="483" y="280" width="1" height="74" fill="#000"/>
<rect x="481" y="305" width="5" height="27" fill="#000"/>
<rect x="482" y="306" width="3" height="25" fill="#ff0000"/>
<rect x="491" y="292" width="1" height="38" fill="#000"/>
<rect x="489" y="305" width="5" height="23" fill="#000"/>
<rect x="490" y="306" width="3" height="21" fill="#00ff00"/>
<rect x="499" y="290" width="1" height="12" fill="#000"/>
<rect x="497" y="294" width="5" height="5" fill="#000"/>
<rect x="498" y="295" width="3" height="3" fill="#ff0000"/>
<rect x="507" y="276" width="1" height="22" fill="#000"/>
<rect x="505" y="281" width="5" height="14" fill="#000"/>
<rect x="506" y="282" width="3" height="12" fill="#ff0000"/>
<rect x="515" y="259" width="1" height="30" fill="#000"/>
<rect x="513" y="259" width="5" height="23" fill="#000"/>
<rect x="514" y="260" width="3" height="21" fill="#ff0000"/>
<rect x="523" y="232" width="1" height="33" fill="#000"/>
<rect x="521" y="239" width="5" height="21" fill="#000"/>
<rect x="522" y="240" width="3" height="19" fill="#ff0000"/>
<rect x="531" y="223" width="1" height="46" fill="#000"/>
<rect x="529" y="239" width="5" height="8" fill="#000"/>
<rect x="530" y="240" width="3" height="6" fill="#00ff00"/>
<rect x="539" y="210" width="1" height="49" fill="#000"/>
<rect x="537" y="211" width="5" height="36" fill="#000"/>
<rect x="538" y="212" width="3" height="34" fill="#ff0000"/>
<rect x="547" y="205" width="1" height="14" fill="#000"/>
<rect x="545" y="212" width="5" height="2" fill="#000"/>
<rect x="555" y="204" width="1" height="17" fill="#000"/>
<rect x="553" y="213" width="5" height="5" fill="#000"/>
<rect x="554" y="214" width="3" height="3" fill="#00ff00"/>
<rect x="563" y="201" width="1" height="34" fill="#000"/>
<rect x="561" y="211" width="5" height="7" fill="#000"/>
<rect x="562" y="212" width="3" height="5" fill="#ff0000"/>
<rect x="571" y="171" width="1" height="43" fill="#000"/>
<rect x="569" y="171" width="5" height="41" fill="#000"/>
<rect x="570" y="172" width="3" height="39" fill="#ff0000"/>
<rect x="579" y="168" width="1" height="35" fill="#000"/>
<rect x="577" y="171" width="5" height="8" fill="#000"/>
<rect x="578" y="172" width="3" height="6" fill="#00ff00"/>
<rect x="587" y="140" width="1" height="39" fill="#000"/>
<rect x="585" y="157" width="5" height="22" fill="#000"/>
<rect x="586" y="158" width="3" height="20" fill="#ff0000"/>
<rect x="595" y="153" width="1" height="16" fill="#000"/>
<rect x="593" y="157" width="5" height="7" fill="#000"/>
<rect x="594" y="158" width="3" height="5" fill="#00ff00"/>
<rect x="603" y="154" width="1" height="24" fill="#000"/>
<rect x="601" y="159" width="5" height="5" fill="#000"/>
<rect x="602" y="160" width="3" height="3" fill="#ff0000"/>
<rect x="611" y="142" width="1" height="26" fill="#000"/>
<rect x="609" y="147" width="5" height="13" fill="#000"/>
<rect x="610" y="148" width="3" height="11" fill="#ff0000"/>
<rect x="619" y="144" width="1" height="48" fill="#000"/>
<rect x="617" y="146" width="5" height="39" fill="#000"/>
<rect x="618" y="147" width="3" height="37" fill="#00ff00"/>
<rect x="627" y="139" width="1" height="47" fill="#000"/>
<rect x="625" y="139" width="5" height="46" fill="#000"/>
<rect x="626" y="140" width="3" height="44" fill="#ff0000"/>
<rect x="635" y="122" width="1" height="115" fill="#000"/>
<rect x="633" y="139" width="5" height="74" fill="#000"/>
<rect x="634" y="140" width="3" height="72" fill="#00ff00"/>
<rect x="643" y="200" width="1" height="30" fill="#000"/>
<rect x="641" y="212" width="5" height="18" fill="#000"/>
<rect x="642" y="213" width="3" height="16" fill="#00ff00"/>
<rect x="651" y="209" width="1" height="31" fill="#000"/>
<rect x="649" y="215" width="5" height="13" fill="#000"/>
<rect x="650" y="216" width="3" height="11" fill="#ff0000"/>
<rect x="659" y="154" width="1" height="67" fill="#000"/>
<rect x="657" y="177" width="5" height="39" fill="#000"/>
<rect x="658" y="178" width="3" height="37" fill="#ff0000"/>
<rect x="667" y="162" width="1" height="28" fill="#000"/>
<rect x="665" y="164" width="5" height="14" fill="#000"/>
<rect x="666" y="165" width="3" height="12" fill="#ff0000"/>
<rect x="675" y="144" width="1" height="52" fill="#000"/>
<rect x="673" y="164" width="5" height="21" fill="#000"/>
<rect x="674" y="165" width="3" height="19" fill="#00ff00"/>
<rect x="683" y="167" width="1" height="49" fill="#000"/>
<rect x="681" y="177" width="5" height="8" fill="#000"/>
<rect x="682" y="178" width="3" height="6" fill="#ff0000"/>
<rect x="691" y="156" width="1" height="23" fill="#000"/>
<rect x="689" y="157" width="5" height="20" fill="#000"/>
<rect x="690" y="158" width="3" height="18" fill="#ff0000"/>
<rect x="699" y="144" width="1" height="26" fill="#000"/>
<rect x="697" y="150" width="5" height="8" fill="#000"/>
<rect x="698" y="151" width="3" height="6" fill="#ff0000"/>
<rect x="707" y="128" width="1" height="40" fill="#000"/>
<rect x="705" y="148" width="5" height="3" fill="#000"/>
<rect x="706" y="149" width="3" height="1" fill="#ff0000"/>
<rect x="715" y="120" width="1" height="39" fill="#000"/>
<rect x="713" y="121" width="5" height="28" fill="#000"/>
<rect x="714" y="122" width="3" height="26" fill="#ff0000"/>
<rect x="723" y="50" width="1" height="85" fill="#000"/>
<rect x="721" y="72" width="5" height="50" fill="#000"/>
<rect x="722" y="73" width="3" height="48" fill="#ff0000"/>
<rect x="731" y="69" width="1" height="31" fill="#000"/>
<rect x="729" y="72" width="5" height="24" fill="#000"/>
<rect x="730" y="73" width="3" height="22" fill="#00ff00"/>
<rect x="739" y="105" width="1" height="18" fill="#000"/>
<rect x="737" y="105" width="5" height="14" fill="#000"/>
<rect x="738" y="106" width="3" height="12" fill="#00ff00"/>
<rect x="747" y="96" width="1" height="27" fill="#000"/>
<rect x="745" y="115" width="5" height="4" fill="#000"/>
<rect x="746" y="116" width="3" height="2" fill="#ff0000"/>
<rect x="755" y="108" width="1" height="23" fill="#000"/>
<rect x="753" y="115" width="5" height="8" fill="#000"/>
<rect x="754" y="116" width="3" height="6" fill="#00ff00"/>
<rect x="763" y="111" width="1" height="21" fill="#000"/>
<rect x="761" y="123" width="5" height="4" fill="#000"/>
<rect x="762" y="124" width="3" height="2" fill="#00ff00"/>
<rect x="771" y="107" width="1" height="31" fill="#000"/>
<rect x="769" y="126" width="5" height="12" fill="#000"/>
<rect x="770" y="127" width="3" height="10" fill="#00ff00"/>
<rect x="779" y="118" width="1" height="19" fill="#000"/>
<rect x="777" y="129" width="5" height="8" fill="#000"/>
<rect x="778" y="130" width="3" height="6" fill="#ff0000"/>
<rect x="787" y="127" width="1" height="13" fill="#000"/>
<rect x="785" y="129" width="5" height="4" fill="#000"/>
<rect x="786" y="130" width="3" height="2" fill="#00ff00"/>
<rect x="795" y="131" width="1" height="38" fill="#000"/>
<rect x="793" y="132" width="5" height="37" fill="#000"/>
<rect x="794" y="133" width="3" height="35" fill="#00ff00"/>
<rect x="803" y="156" width="1" height="42" fill="#000"/>
<rect x="801" y="168" width="5" height="27" fill="#000"/>
<rect x="802" y="169" width="3" height="25" fill="#00ff00"/>
<rect x="811" y="150" width="1" height="50" fill="#000"/>
<rect x="809" y="157" width="5" height="38" fill="#000"/>
<rect x="810" y="158" width="3" height="36" fill="#ff0000"/>
<rect x="819" y="156" width="1" height="42" fill="#000"/>
<rect x="817" y="157" width="5" height="24" fill="#000"/>
<rect x="818" y="158" width="3" height="22" fill="#00ff00"/>
<rect x="827" y="167" width="1" height="29" fill="#000"/>
<rect x="825" y="179" width="5" height="11" fill="#000"/>
<rect x="826" y="180" width="3" height="9" fill="#00ff00"/>
<rect x="835" y="176" width="1" height="17" fill="#000"/>
<rect x="833" y="176" width="5" height="13" fill="#000"/>
<rect x="834" y="177" width="3" height="11" fill="#ff0000"/>
<rect x="843" y="140" width="1" height="38" fill="#000"/>
<rect x="841" y="149" width="5" height="28" fill="#000"/>
<rect x="842" y="150" width="3" height="26" fill="#ff0000"/>
<rect x="851" y="121" width="1" height="32" fill="#000"/>
<rect x="849" y="135" width="5" height="14" fill="#000"/>
<rect x="850" y="136" width="3" height="12" fill="#ff0000"/>
<rect x="859" y="124" width="1" height="24" fill="#000"/>
<rect x="857" y="134" width="5" height="2" fill="#000"/>
<rect x="867" y="126" width="1" height="64" fill="#000"/>
<rect x="865" y="135" width="5" height="40" fill="#000"/>
<rect x="866" y="136" width="3" height="38" fill="#00ff00"/>
<rect x="875" y="163" width="1" height="32" fill="#000"/>
<rect x="873" y="164" width="5" height="11" fill="#000"/>
<rect x="874" y="165" width="3" height="9" fill="#ff0000"/>
<rect x="883" y="149" width="1" height="25" fill="#000"/>
<rect x="881" y="150" width="5" height="15" fill="#000"/>
<rect x="882" y="151" width="3" height="13" fill="#ff0000"/>
<rect x="891" y="132" width="1" height="42" fill="#000"/>
<rect x="889" y="149" width="5" height="1" fill="#000"/>
<rect x="899" y="129" width="1" height="36" fill="#000"/>
<rect x="897" y="135" width="5" height="15" fill="#000"/>
<rect x="898" y="136" width="3" height="13" fill="#ff0000"/>
<rect x="907" y="133" width="1" height="25" fill="#000"/>
<rect x="905" y="135" width="5" height="19" fill="#000"/>
<rect x="906" y="136" width="3" height="17" fill="#00ff00"/>
<rect x="915" y="131" width="1" height="39" fill="#000"/>
<rect x="913" y="134" width="5" height="19" fill="#000"/>
<rect x="914" y="135" width="3" height="17" fill="#ff0000"/>
<rect x="923" y="103" width="1" height="35" fill="#000"/>
<rect x="921" y="130" width="5" height="6" fill="#000"/>
<rect x="922" y="131" width="3" height="4" fill="#ff0000"/>
<rect x="931" y="116" width="1" height="20" fill="#000"/>
<rect x="929" y="127" width="5" height="4" fill="#000"/>
<rect x="930" y="128" width="3" height="2" fill="#ff0000"/>
<rect x="939" y="119" width="1" height="18" fill="#000"/>
<rect x="937" y="127" width="5" height="6" fill="#000"/>
<rect x="938" y="128" width="3" height="4" fill="#00ff00"/>
<rect x="947" y="130" width="1" height="12" fill="#000"/>
<rect x="945" y="132" width="5" height="5" fill="#000"/>
<rect x="946" y="133" width="3" height="3" fill="#00ff00"/>
<rect x="955" y="124" width="1" height="31" fill="#000"/>
<rect x="953" y="136" width="5" height="2" fill="#000"/>
<rect x="963" y="133" width="1" height="72" fill="#000"/>
<rect x="961" y="137" width="5" height="52" fill="#000"/>
<rect x="962" y="138" width="3" height="50" fill="#00ff00"/>
<rect x="971" y="174" width="1" height="18" fill="#000"/>
<rect x="969" y="186" width="5" height="3" fill="#000"/>
<rect x="970" y="187" width="3" height="1" fill="#ff0000"/>
<rect x="979" y="204" width="1" height="15" fill="#000"/>
<rect x="977" y="206" width="5" height="8" fill="#000"/>
<rect x="978" y="207" width="3" height="6" fill="#ff0000"/>
<rect x="987" y="190" width="1" height="41" fill="#000"/>
<rect x="985" y="205" width="5" height="24" fill="#000"/>
<rect x="986" y="206" width="3" height="22" fill="#00ff00"/>
<rect x="995" y="212" width="1" height="24" fill="#000"/>
<rect x="993" y="228" width="5" height="5" fill="#000"/>
<rect x="994" y="229" width="3" height="3" fill="#00ff00"/>
<rect x="1003" y="202" width="1" height="33" fill="#000"/>
<rect x="1001" y="203" width="5" height="30" fill="#000"/>
<rect x="1002" y="204" width="3" height="28" fill="#ff0000"/>
<rect x="1011" y="191" width="1" height="40" fill="#000"/>
<rect x="1009" y="203" width="5" height="26" fill="#000"/>
<rect x="1010" y="204" width="3" height="24" fill="#00ff00"/>
<rect x="1019" y="213" width="1" height="20" fill="#000"/>
<rect x="1017" y="221" width="5" height="8" fill="#000"/>
<rect x="1018" y="222" width="3" height="6" fill="#ff0000"/>
<rect x="1027" y="220" width="1" height="16" fill="#000"/>
<rect x="1025" y="222" width="5" height="8" fill="#000"/>
<rect x="1026" y="223" width="3" height="6" fill="#00ff00"/>
<rect x="1035" y="224" width="1" height="20" fill="#000"/>
<rect x="1033" y="230" width="5" height="7" fill="#000"/>
<rect x="1034" y="231" width="3" height="5" fill="#00ff00"/>
<rect x="1043" y="233" width="1" height="37" fill="#000"/>
<rect x="1041" y="236" width="5" height="22" fill="#000"/>
<rect x="1042" y="237" width="3" height="20" fill="#00ff00"/>
<rect x="1051" y="252" width="1" height="23" fill="#000"/>
<rect x="1049" y="253" width="5" height="5" fill="#000"/>
<rect x="1050" y="254" width="3" height="3" fill="#ff0000"/>
<rect x="1059" y="209" width="1" height="52" fill="#000"/>
<rect x="1057" y="219" width="5" height="35" fill="#000"/>
<rect x="1058" y="220" width="3" height="33" fill="#ff0000"/>
<rect x="1067" y="214" width="1" height="35" fill="#000"/>
<rect x="1065" y="219" width="5" height="7" fill="#000"/>
<rect x="1066" y="220" width="3" height="5" fill="#00ff00"/>
<rect x="1075" y="223" width="1" height="12" fill="#000"/>
<rect x="1073" y="225" width="5" height="3" fill="#000"/>
<rect x="1074" y="226" width="3" height="1" fill="#00ff00"/>
<rect x="1083" y="224" width="1" height="14" fill="#000"/>
<rect x="1081" y="227" width="5" height="7" fill="#000"/>
<rect x="1082" y="228" width="3" height="5" fill="#00ff00"/>
<rect x="1091" y="216" width="1" height="24" fill="#000"/>
<rect x="1089" y="230" width="5" height="3" fill="#000"/>
<rect x="1090" y="231" width="3" height="1" fill="#ff0000"/>
<rect x="1099" y="213" width="1" height="38" fill="#000"/>
<rect x="1097" y="230" width="5" height="20" fill="#000"/>
<rect x="1098" y="231" width="3" height="18" fill="#00ff00"/>
<rect x="1107" y="205" width="1" height="49" fill="#000"/>
<rect x="1105" y="239" width="5" height="11" fill="#000"/>
<rect x="1106" y="240" width="3" height="9" fill="#ff0000"/>
<rect x="1115" y="205" width="1" height="37" fill="#000"/>
<rect x="1113" y="205" width="5" height="34" fill="#000"/>
<rect x="1114" y="206" width="3" height="32" fill="#ff0000"/>
<rect x="1123" y="205" width="1" height="15" fill="#000"/>
<rect x="1121" y="205" width="5" height="14" fill="#000"/>
<rect x="1122" y="206" width="3" height="12" fill="#00ff00"/>
<rect x="1131" y="198" width="1" height="27" fill="#000"/>
<rect x="1129" y="215" width="5" height="4" fill="#000"/>
<rect x="1130" y="216" width="3" height="2" fill="#ff0000"/>
<rect x="1139" y="188" width="1" height="29" fill="#000"/>
<rect x="1137" y="195" width="5" height="21" fill="#000"/>
<rect x="1138" y="196" width="3" height="19" fill="#ff0000"/>
<rect x="1147" y="176" width="1" height="27" fill="#000"/>
<rect x="1145" y="190" width="5" height="6" fill="#000"/>
<rect x="1146" y="191" width="3" height="4" fill="#ff0000"/>
<rect x="1155" y="179" width="1" height="57" fill="#000"/>
<rect x="1153" y="189" width="5" height="42" fill="#000"/>
<rect x="1154" y="190" width="3" height="40" fill="#00ff00"/>
<rect x="1163" y="215" width="1" height="24" fill="#000"/>
<rect x="1161" y="229" width="5" height="2" fill="#000"/>
<rect x="1171" y="218" width="1" height="15" fill="#000"/>
<rect x="1169" y="228" width="5" height="1" fill="#000"/>
<rect x="1179" y="191" width="1" height="43" fill="#000"/>
<rect x="1177" y="196" width="5" height="34" fill="#000"/>
<rect x="1178" y="197" width="3" height="32" fill="#ff0000"/>
<rect x="1187" y="178" width="1" height="20" fill="#000"/>
<rect x="1185" y="181" width="5" height="16" fill="#000"/>
<rect x="1186" y="182" width="3" height="14" fill="#ff0000"/>
<rect x="1195" y="172" width="1" height="28" fill="#000"/>
<rect x="1193" y="178" width="5" height="4" fill="#000"/>
<rect x="1194" y="179" width="3" height="2" fill="#ff0000"/>
<rect x="1203" y="147" width="1" height="54" fill="#000"/>
<rect x="1201" y="178" width="5" height="14" fill="#000"/>
<rect x="1202" y="179" width="3" height="12" fill="#00ff00"/>
<rect x="1211" y="187" width="1" height="31" fill="#000"/>
<rect x="1209" y="191" width="5" height="25" fill="#000"/>
<rect x="1210" y="192" width="3" height="23" fill="#00ff00"/>
<rect x="1219" y="210" width="1" height="15" fill="#000"/>
<rect x="1217" y="215" width="5" height="7" fill="#000"/>
<rect x="1218" y="216" width="3" height="5" fill="#ff0000"/>
<rect x="1227" y="202" width="1" height="26" fill="#000"/>
<rect x="1225" y="207" width="5" height="9" fill="#000"/>
<rect x="1226" y="208" width="3" height="7" fill="#ff0000"/>
<rect x="1235" y="205" width="1" height="33" fill="#000"/>
<rect x="1233" y="207" width="5" height="29" fill="#000"/>
<rect x="1234" y="208" width="3" height="27" fill="#00ff00"/>
<rect x="1243" y="227" width="1" height="33" fill="#000"/>
<rect x="1241" y="235" width="5" height="15" fill="#000"/>
<rect x="1242" y="236" width="3" height="13" fill="#00ff00"/>
<rect x="1251" y="209" width="1" height="42" fill="#000"/>
<rect x="1249" y="222" width="5" height="28" fill="#000"/>
<rect x="1250" y="223" width="3" height="26" fill="#ff0000"/>
<rect x="1259" y="222" width="1" height="25" fill="#000"/>
<rect x="1257" y="222" width="5" height="15" fill="#000"/>
<rect x="1258" y="223" width="3" height="13" fill="#00ff00"/>
<rect x="1267" y="235" width="1" height="13" fill="#000"/>
<rect x="1265" y="235" width="5" height="9" fill="#000"/>
<rect x="1266" y="236" width="3" height="7" fill="#00ff00"/>
<rect x="1275" y="240" width="1" height="4" fill="#000"/>
<rect x="1273" y="241" width="5" height="3" fill="#000"/>
<rect x="1274" y="242" width="3" height="1" fill="#ff0000"/>
</g>
<g fill="none" stroke="#36ab6e" stroke-width="1" shape-rendering="crispEdges">
<polyline points="0.0,231.0 10.9,224.9 19.3,228.3 29.0,224.9 43.5,224.2 52.0,225.9 59.3,235.8 72.6,245.9 84.6,258.0 99.2,275.0 106.4,289.5 120.9,307.6 135.4,325.8 149.9,342.7 164.4,359.6 179.0,377.8 187.4,386.2 200.7,379.0 212.8,372.2 227.3,367.4 234.6,368.6 249.1,376.5 266.0,380.9 282.9,385.0 299.9,392.3 314.4,406.4 326.5,423.3 338.6,441.5 347.4,456.6 364.1,456.1 388.8,452.9 413.4,458.3 427.2,461.4 434.5,447.0 441.8,422.4 449.0,402.0 456.3,386.1 463.5,372.3 469.3,360.0 474.5,345.8 483.2,319.6 491.9,295.0 500.6,268.9 507.3,251.6 514.5,234.2 520.3,215.3 526.1,200.8 531.9,187.7 539.2,171.8 546.4,160.2 554.4,150.0 570.0,131.7 578.7,124.6 587.4,123.1 599.0,114.0 612.0,101.2 619.3,104.3 626.6,102.1 642.5,110.7 651.3,120.5 660.0,124.2 674.5,128.9 690.4,131.4 697.7,127.8 707.8,125.3 715.1,119.1 720.9,102.4 726.7,93.7 734.0,86.4 744.1,80.6 757.2,74.4 773.1,71.6 787.6,70.0 796.3,73.1 811.3,82.7 825.8,81.0 845.2,81.0 864.5,79.0 874.2,80.2 881.5,89.9 887.4,97.3 892.4,103.1 900.4,106.0 910.6,111.0 919.3,112.9 929.5,111.5 939.6,112.8 951.2,112.1 962.8,112.5 973.0,110.3 983.1,104.5 994.7,95.4 1000.0,95.2 1013.1,95.5 1020.3,97.4 1029.0,96.0 1042.1,94.2 1049.3,95.2 1058.0,101.8 1066.7,106.8 1075.4,115.5 1084.2,125.7 1092.9,139.5 1100.1,152.5 1104.5,164.2 1110.3,175.8 1114.6,186.6 1120.4,191.0 1127.7,196.1 1132.0,199.3 1139.3,196.1 1145.1,191.7 1152.3,190.3 1159.6,191.4 1174.1,191.7 1182.8,187.4 1190.1,180.1 1195.9,175.8 1203.1,174.3 1212.6,175.3 1227.0,175.3 1241.6,173.7 1253.2,173.4 1260.4,174.5 1275.0,174.4"/>
<polyline points="0.0,289.5 7.3,290.2 16.9,296.7 29.0,302.8 42.3,312.5 55.6,325.8 67.7,337.8 79.8,347.5 96.7,361.0 116.1,379.0 135.4,390.8 154.8,397.9 169.3,402.8 188.6,410.0 200.7,418.5 217.7,425.8 241.8,439.1 266.0,448.7 290.2,459.6 314.4,468.1 335.1,476.4 346.7,484.8 364.1,488.8 393.1,493.8 416.3,497.5 427.0,498.5 436.3,495.1 456.3,480.0 466.4,473.2 472.2,468.1 488.2,452.9 492.6,448.5 501.3,435.4 510.0,422.4 518.7,407.9 527.4,393.4 536.1,378.9 546.2,360.0 550.0,351.6 561.6,331.3 570.3,313.8 576.1,300.8 583.3,286.3 589.1,275.4 597.8,261.6 606.5,250.0 613.2,241.4 623.3,226.9 630.6,219.6 645.1,209.5 659.6,200.1 674.1,191.4 685.7,184.8 700.0,180.7 714.5,172.2 726.6,163.7 738.7,157.7 753.2,154.0 772.6,151.1 791.9,147.5 811.3,141.9 825.8,142.7 845.2,141.9 859.7,140.2 869.4,142.4 883.9,148.0 898.4,152.8 912.9,154.0 940.0,153.3 951.2,153.4 961.4,151.2 970.1,152.7 983.1,155.3 994.7,158.9 1000.0,161.3 1008.7,165.6 1018.9,171.4 1029.0,173.6 1040.6,180.1 1050.8,187.4 1060.9,192.4 1076.1,201.2 1090.6,210.6 1105.1,220.1 1113.8,224.4 1122.5,226.6 1131.2,228.5 1141.4,227.3 1154.5,224.2 1169.0,225.6 1187.9,222.7 1201.0,217.6 1212.6,215.4 1227.0,214.7 1241.6,215.7 1253.2,214.3 1267.7,214.3 1275.0,216.2"/>
<polyline points="0.0,347.2 4.7,352.0 9.4,357.5 15.7,362.2 20.4,368.5 26.7,377.1 33.0,385.0 40.9,396.8 47.2,407.8 51.9,417.2 59.8,426.7 67.6,434.5 75.5,440.0 89.7,444.8 99.2,451.1 108.8,451.6 120.9,456.5 135.4,456.0 154.8,452.4 169.3,445.1 181.4,438.3 187.4,437.4 193.5,447.5 198.7,459.0 208.9,476.4 219.0,488.0 227.7,498.2 243.7,506.2 255.3,511.3 268.4,517.1 280.0,525.8 291.6,531.6 300.3,533.5 314.8,530.1 323.5,525.0 332.2,517.8 339.4,514.4 348.2,514.4 356.9,518.5 371.4,524.3 383.0,530.1 387.3,533.7 393.1,536.4 427.6,536.4 436.7,548.0"/>
<polyline points="550.2,548.0 559.6,527.1 568.3,502.4 574.1,483.5 581.2,460.0 586.9,435.4 594.1,416.6 602.8,400.6 611.5,383.2 621.0,360.0 624.0,351.6 631.2,334.2 638.5,319.6 645.7,307.3 650.1,293.5 658.8,279.0 667.5,263.1 671.2,257.4 678.5,248.7 687.2,241.4 694.4,235.6 700.0,232.7 714.5,226.6 721.8,231.5 730.2,235.8 743.5,235.1 758.1,233.4 772.6,231.5 787.1,227.8 796.8,219.4 804.0,211.6 811.3,203.6 818.6,203.2 828.2,207.3 838.0,204.6 848.2,201.4 859.8,200.6 874.3,205.8 888.8,198.4 900.4,195.9 910.6,194.2 929.5,195.2 949.8,193.7 960.0,191.0 968.7,193.9 977.4,200.5 986.1,212.1 994.8,222.2 1003.5,228.0 1015.1,241.1 1025.3,250.5 1035.4,260.0 1042.7,268.7 1050.0,278.1 1061.6,282.4 1073.2,285.6 1084.8,285.4 1093.5,282.4 1100.7,279.5 1106.5,274.5 1110.9,268.7 1115.2,262.9 1119.6,260.7 1131.2,257.3 1138.5,257.8 1147.2,260.2 1163.1,260.2 1177.7,261.7 1192.2,264.6 1198.0,262.9 1202.4,260.0 1209.6,255.4 1221.3,253.2 1232.9,253.5 1244.5,256.8 1256.1,254.6 1264.8,252.9 1275.0,256.8"/>
</g>
<g shape-rendering="crispEdges">
<rect x="0" y="160" width="1613" height="2" fill="#ff0000"/>
<rect x="0" y="192" width="1613" height="2" fill="#ff0000"/>
<rect x="0" y="221" width="1613" height="2" fill="#ffa500"/>
<rect x="0" y="241" width="1613" height="1" fill="#000"/>
<rect x="0" y="277" width="1613" height="2" fill="#0000ff"/>
<rect x="0" y="304" width="1613" height="2" fill="#0000ff"/>
</g>
<g fill="#4c9a2a" stroke="none"><polygon points="1174.18,180.94 1172.62,183.26 1266.07,246.26 1267.63,243.94"/><polygon points="1281.3,255.3 1271.7,238.0 1261.9,252.2"/></g>
<g shape-rendering="crispEdges" fill="#00ff00">
<rect x="2" y="639" width="3" height="21"/>
<rect x="10" y="639" width="3" height="23"/>
<rect x="18" y="639" width="3" height="25"/>
<rect x="26" y="639" width="3" height="28"/>
<rect x="34" y="639" width="3" height="30"/>
<rect x="42" y="639" width="3" height="33"/>
<rect x="50" y="639" width="3" height="36"/>
<rect x="58" y="639" width="3" height="39"/>
<rect x="66" y="639" width="3" height="39"/>
<rect x="74" y="639" width="3" height="39"/>
<rect x="82" y="639" width="3" height="39"/>
<rect x="90" y="639" width="3" height="39"/>
<rect x="98" y="639" width="3" height="39"/>
<rect x="106" y="639" width="3" height="39"/>
<rect x="114" y="639" width="3" height="39"/>
<rect x="122" y="639" width="3" height="37"/>
<rect x="130" y="639" width="3" height="37"/>
<rect x="138" y="639" width="3" height="36"/>
<rect x="146" y="639" width="3" height="33"/>
<rect x="154" y="639" width="3" height="30"/>
<rect x="162" y="639" width="3" height="28"/>
<rect x="170" y="639" width="3" height="25"/>
<rect x="178" y="639" width="3" height="24"/>
<rect x="186" y="639" width="3" height="24"/>
<rect x="194" y="639" width="3" height="28"/>
<rect x="202" y="639" width="3" height="31"/>
<rect x="210" y="639" width="3" height="35"/>
<rect x="218" y="639" width="3" height="37"/>
<rect x="226" y="639" width="3" height="38"/>
<rect x="234" y="639" width="3" height="37"/>
<rect x="242" y="639" width="3" height="36"/>
<rect x="250" y="639" width="3" height="34"/>
<rect x="258" y="639" width="3" height="33"/>
<rect x="266" y="639" width="3" height="33"/>
<rect x="274" y="639" width="3" height="33"/>
<rect x="282" y="639" width="3" height="33"/>
<rect x="290" y="639" width="3" height="33"/>
<rect x="298" y="639" width="3" height="31"/>
<rect x="306" y="639" width="3" height="28"/>
<rect x="314" y="639" width="3" height="25"/>
<rect x="322" y="639" width="3" height="21"/>
<rect x="330" y="639" width="3" height="19"/>
<rect x="338" y="639" width="3" height="21"/>
<rect x="346" y="639" width="3" height="25"/>
<rect x="354" y="639" width="3" height="25"/>
<rect x="362" y="639" width="3" height="26"/>
<rect x="370" y="639" width="3" height="26"/>
<rect x="378" y="639" width="3" height="24"/>
<rect x="386" y="639" width="3" height="26"/>
<rect x="394" y="639" width="3" height="24"/>
<rect x="402" y="639" width="3" height="23"/>
<rect x="410" y="639" width="3" height="21"/>
<rect x="418" y="639" width="3" height="17"/>
<rect x="426" y="639" width="3" height="15"/>
<rect x="434" y="639" width="3" height="7"/>
<rect x="442" y="635" width="3" height="4"/>
<rect x="450" y="626" width="3" height="13"/>
<rect x="458" y="620" width="3" height="19"/>
<rect x="466" y="614" width="3" height="25"/>
<rect x="474" y="607" width="3" height="32"/>
<rect x="482" y="599" width="3" height="40"/>
<rect x="490" y="595" width="3" height="44"/>
<rect x="498" y="590" width="3" height="49"/>
<rect x="506" y="585" width="3" height="54"/>
<rect x="514" y="580" width="3" height="59"/>
<rect x="522" y="574" width="3" height="65"/>
<rect x="530" y="572" width="3" height="67"/>
<rect x="538" y="567" width="3" height="72"/>
<rect x="546" y="564" width="3" height="75"/>
<rect x="554" y="564" width="3" height="75"/>
<rect x="562" y="563" width="3" height="76"/>
<rect x="570" y="560" width="3" height="79"/>
<rect x="578" y="559" width="3" height="80"/>
<rect x="586" y="558" width="3" height="81"/>
<rect x="594" y="558" width="3" height="81"/>
<rect x="602" y="558" width="3" height="81"/>
<rect x="610" y="560" width="3" height="79"/>
<rect x="618" y="563" width="3" height="76"/>
<rect x="626" y="564" width="3" height="75"/>
<rect x="634" y="571" width="3" height="68"/>
<rect x="642" y="580" width="3" height="59"/>
<rect x="650" y="586" width="3" height="53"/>
<rect x="658" y="588" width="3" height="51"/>
<rect x="666" y="589" width="3" height="50"/>
<rect x="674" y="592" width="3" height="47"/>
<rect x="682" y="594" width="3" height="45"/>
<rect x="690" y="594" width="3" height="45"/>
<rect x="698" y="594" width="3" height="45"/>
<rect x="706" y="595" width="3" height="44"/>
<rect x="714" y="592" width="3" height="47"/>
<rect x="722" y="588" width="3" height="51"/>
<rect x="730" y="587" width="3" height="52"/>
<rect x="738" y="588" width="3" height="51"/>
<rect x="746" y="590" width="3" height="49"/>
<rect x="754" y="593" width="3" height="46"/>
<rect x="762" y="595" width="3" height="44"/>
<rect x="770" y="599" width="3" height="40"/>
<rect x="778" y="602" width="3" height="37"/>
<rect x="786" y="604" width="3" height="35"/>
<rect x="794" y="610" width="3" height="29"/>
<rect x="802" y="617" width="3" height="22"/>
<rect x="810" y="620" width="3" height="19"/>
<rect x="818" y="624" width="3" height="15"/>
<rect x="826" y="629" width="3" height="10"/>
<rect x="834" y="631" width="3" height="8"/>
<rect x="842" y="630" width="3" height="9"/>
<rect x="850" y="629" width="3" height="10"/>
<rect x="858" y="628" width="3" height="11"/>
<rect x="866" y="630" width="3" height="9"/>
<rect x="874" y="632" width="3" height="7"/>
<rect x="882" y="632" width="3" height="7"/>
<rect x="890" y="632" width="3" height="7"/>
<rect x="898" y="631" width="3" height="8"/>
<rect x="906" y="631" width="3" height="8"/>
<rect x="914" y="631" width="3" height="8"/>
<rect x="922" y="629" width="3" height="10"/>
<rect x="930" y="628" width="3" height="11"/>
<rect x="938" y="628" width="3" height="11"/>
<rect x="946" y="628" width="3" height="11"/>
<rect x="954" y="628" width="3" height="11"/>
<rect x="962" y="634" width="3" height="5"/>
<rect x="970" y="638" width="3" height="1"/>
<rect x="978" y="639" width="3" height="4"/>
<rect x="986" y="639" width="3" height="10"/>
<rect x="994" y="639" width="3" height="15"/>
<rect x="1002" y="639" width="3" height="16"/>
<rect x="1010" y="639" width="3" height="19"/>
<rect x="1018" y="639" width="3" height="20"/>
<rect x="1026" y="639" width="3" height="22"/>
<rect x="1034" y="639" width="3" height="24"/>
<rect x="1042" y="639" width="3" height="27"/>
<rect x="1050" y="639" width="3" height="28"/>
<rect x="1058" y="639" width="3" height="26"/>
<rect x="1066" y="639" width="3" height="25"/>
<rect x="1074" y="639" width="3" height="23"/>
<rect x="1082" y="639" width="3" height="23"/>
<rect x="1090" y="639" width="3" height="23"/>
<rect x="1098" y="639" width="3" height="23"/>
<rect x="1106" y="639" width="3" height="22"/>
<rect x="1114" y="639" width="3" height="18"/>
<rect x="1122" y="639" width="3" height="16"/>
<rect x="1130" y="639" width="3" height="14"/>
<rect x="1138" y="639" width="3" height="10"/>
<rect x="1146" y="639" width="3" height="7"/>
<rect x="1154" y="639" width="3" height="8"/>
<rect x="1162" y="639" width="3" height="9"/>
<rect x="1170" y="639" width="3" height="9"/>
<rect x="1178" y="639" width="3" height="6"/>
<rect x="1186" y="639" width="3" height="2"/>
<rect x="1194" y="637" width="3" height="2"/>
<rect x="1202" y="636" width="3" height="3"/>
<rect x="1210" y="637" width="3" height="2"/>
<rect x="1218" y="638" width="3" height="1"/>
<rect x="1226" y="638" width="3" height="1"/>
<rect x="1234" y="639" width="3" height="2"/>
<rect x="1242" y="639" width="3" height="6"/>
<rect x="1250" y="639" width="3" height="6"/>
<rect x="1258" y="639" width="3" height="8"/>
<rect x="1266" y="639" width="3" height="9"/>
<rect x="1274" y="639" width="3" height="10"/>
</g>
<polyline fill="none" stroke="#ff0000" stroke-width="2" shape-rendering="crispEdges" points="0.0,648.7 24.1,656.4 48.2,663.1 70.0,669.9 84.4,672.1 106.1,676.4 144.7,676.4 168.8,672.8 188.0,669.2 205.0,667.2 226.6,668.0 241.0,670.4 260.4,673.5 289.3,673.5 313.4,670.4 337.6,666.3 361.7,663.1 376.0,661.9 394.5,663.1 418.6,662.7 433.0,660.2 452.3,651.1 471.6,639.0 486.1,627.0 500.6,614.9 515.0,602.9 529.5,592.0 544.0,583.6 563.2,574.4 580.1,567.9 597.0,563.1 611.5,559.9 625.9,559.9 640.4,561.9 654.9,567.2 669.3,573.5 683.8,580.7 698.3,586.5 712.7,591.5 741.7,591.5 770.6,592.0 784.1,593.9 796.2,596.4 820.3,607.7 844.4,619.7 868.5,627.7 885.4,629.9 969.8,629.9 996.3,636.1 1013.2,642.6 1030.0,649.9 1049.3,657.8 1066.2,661.5 1114.5,661.9 1130.7,659.6 1147.0,655.0 1172.3,651.1 1190.4,646.0 1204.9,642.7 1219.3,641.1 1235.6,640.6 1237.4,639.7 1259.1,639.7 1268.2,641.5 1275.6,642.9"/>
<g shape-rendering="crispEdges" stroke="#000" stroke-width="1" stroke-dasharray="3,3">
<line x1="0" y1="712.5" x2="1613" y2="712.5"/>
<line x1="0" y1="747.5" x2="1613" y2="747.5"/>
<line x1="0" y1="789.5" x2="1613" y2="789.5"/>
</g>
<polyline fill="none" stroke="#1e90ff" stroke-width="2" stroke-linejoin="round" shape-rendering="crispEdges" points="0.0,764.6 9.6,768.7 20.5,768.9 27.7,772.3 36.2,773.0 50.6,779.8 67.5,779.8 76.0,771.8 84.4,769.9 98.9,776.1 106.1,773.0 115.7,773.7 123.0,769.4 131.4,767.0 138.6,768.9 147.1,757.3 155.5,760.9 164.0,756.1 170.0,755.9 179.6,758.5 187.6,762.2 195.8,774.9 201.3,776.1 218.2,776.1 226.6,777.1 236.3,771.1 244.7,769.4 254.4,768.9 266.4,768.2 276.1,773.7 284.0,774.9 291.7,766.3 300.2,763.4 307.4,760.9 314.6,756.1 323.1,751.8 331.5,755.4 339.5,767.5 347.2,771.1 355.6,767.7 362.9,762.9 372.5,765.0 379.7,765.0 387.2,768.9 395.7,756.9 404.1,755.4 411.3,753.7 419.8,746.5 427.0,750.6 435.5,730.1 443.9,722.9 452.3,722.9 459.6,724.1 466.8,722.9 476.4,715.9 483.7,715.1 491.4,721.2 499.8,717.1 507.8,716.3 516.2,713.9 523.9,712.7 531.9,713.9 539.1,712.0 546.4,712.0 553.6,713.2 562.0,712.7 570.5,709.8 578.9,710.8 586.2,709.8 594.6,712.0 603.0,711.5 611.5,710.8 619.2,724.8 627.1,720.0 635.1,739.2 643.3,742.9 651.2,740.5 659.7,733.9 667.4,732.7 674.6,736.8 682.6,736.8 691.0,733.2 699.5,731.3 709.1,730.8 715.1,727.9 723.6,721.9 730.8,727.2 739.3,732.7 746.5,733.2 754.9,735.2 762.2,735.9 769.6,738.8 778.1,737.6 786.5,737.6 795.0,747.7 803.4,754.2 811.4,745.8 819.1,750.1 827.5,752.0 835.2,749.6 843.7,742.9 851.6,740.5 859.3,740.0 867.3,749.6 875.2,748.9 883.4,744.6 891.4,744.1 899.4,741.7 907.6,747.0 915.5,741.2 923.5,740.9 931.2,740.0 939.6,741.7 947.6,742.4 955.3,742.9 963.3,757.8 972.2,757.8 979.4,762.2 986.6,767.0 995.8,767.0 1003.5,757.3 1011.5,762.2 1019.2,760.9 1027.6,762.6 1034.9,762.9 1043.3,768.2 1051.3,767.0 1059.0,754.9 1066.2,756.1 1074.6,756.1 1083.1,756.9 1091.5,756.9 1099.5,762.6 1107.2,757.8 1115.1,746.8 1122.9,750.1 1131.3,750.1 1139.3,743.3 1147.5,741.7 1155.5,753.0 1171.6,753.0 1179.6,742.9 1188.0,738.8 1196.4,738.5 1203.7,742.9 1211.4,749.6 1220.6,750.1 1227.8,747.7 1235.5,756.1 1243.5,759.3 1251.4,750.6 1259.6,754.4 1265.2,755.9 1275.5,755.9"/>
<g shape-rendering="crispEdges" fill="#000">
<rect x="1614" y="50" width="2" height="1"/>
<rect x="1614" y="83" width="2" height="1"/>
<rect x="1614" y="116" width="2" height="1"/>
<rect x="1614" y="149" width="2" height="1"/>
<rect x="1614" y="182" width="2" height="1"/>
<rect x="1614" y="215" width="2" height="1"/>
<rect x="1614" y="248" width="2" height="1"/>
<rect x="1614" y="281" width="2" height="1"/>
<rect x="1614" y="314" width="2" height="1"/>
<rect x="1614" y="347" width="2" height="1"/>
<rect x="1614" y="380" width="2" height="1"/>
<rect x="1614" y="413" width="2" height="1"/>
<rect x="1614" y="446" width="2" height="1"/>
<rect x="1614" y="479" width="2" height="1"/>
<rect x="1614" y="512" width="2" height="1"/>
<rect x="1614" y="545" width="2" height="1"/>
<rect x="1614" y="552" width="1" height="1"/>
<rect x="1614" y="684" width="1" height="1"/>
<rect x="1614" y="689" width="1" height="1"/>
</g>
<g font-family="Liberation Sans, sans-serif">
<text transform="translate(1619.20,54.00) scale(0.943,1)" fill="#000" stroke="#000" stroke-width="0.15" font-size="9.6" >1.30780</text>
<text transform="translate(1619.20,87.00) scale(0.943,1)" fill="#000" stroke="#000" stroke-width="0.15" font-size="9.6" >1.30390</text>
<text transform="translate(1619.20,120.00) scale(0.943,1)" fill="#000" stroke="#000" stroke-width="0.15" font-size="9.6" >1.30010</text>
<text transform="translate(1619.20,153.00) scale(0.943,1)" fill="#000" stroke="#000" stroke-width="0.15" font-size="9.6" >1.29630</text>
<text transform="translate(1619.20,186.00) scale(0.943,1)" fill="#000" stroke="#000" stroke-width="0.15" font-size="9.6" >1.29250</text>
<text transform="translate(1619.20,219.00) scale(0.943,1)" fill="#000" stroke="#000" stroke-width="0.15" font-size="9.6" >1.28870</text>
<text transform="translate(1619.20,252.00) scale(0.943,1)" fill="#000" stroke="#000" stroke-width="0.15" font-size="9.6" >1.28480</text>
<text transform="translate(1619.20,285.00) scale(0.943,1)" fill="#000" stroke="#000" stroke-width="0.15" font-size="9.6" >1.28100</text>
<text transform="translate(1619.20,318.00) scale(0.943,1)" fill="#000" stroke="#000" stroke-width="0.15" font-size="9.6" >1.27720</text>
<text transform="translate(1619.20,351.00) scale(0.943,1)" fill="#000" stroke="#000" stroke-width="0.15" font-size="9.6" >1.27340</text>
<text transform="translate(1619.20,384.00) scale(0.943,1)" fill="#000" stroke="#000" stroke-width="0.15" font-size="9.6" >1.26960</text>
<text transform="translate(1619.20,417.00) scale(0.943,1)" fill="#000" stroke="#000" stroke-width="0.15" font-size="9.6" >1.26580</text>
<text transform="translate(1619.20,450.00) scale(0.943,1)" fill="#000" stroke="#000" stroke-width="0.15" font-size="9.6" >1.26190</text>
<text transform="translate(1619.20,483.00) scale(0.943,1)" fill="#000" stroke="#000" stroke-width="0.15" font-size="9.6" >1.25810</text>
<text transform="translate(1619.20,516.00) scale(0.943,1)" fill="#000" stroke="#000" stroke-width="0.15" font-size="9.6" >1.25430</text>
<text transform="translate(1619.20,549.00) scale(0.943,1)" fill="#000" stroke="#000" stroke-width="0.15" font-size="9.6" >1.25050</text>
<text transform="translate(1616.80,561.00) scale(0.943,1)" fill="#000" stroke="#000" stroke-width="0.15" font-size="9.6" >0.008791</text>
<text transform="translate(1616.80,643.00) scale(0.943,1)" fill="#000" stroke="#000" stroke-width="0.15" font-size="9.6" >0.00</text>
<text transform="translate(1616.80,682.00) scale(0.943,1)" fill="#000" stroke="#000" stroke-width="0.15" font-size="9.6" >-0.004601</text>
<text transform="translate(1617.20,698.00) scale(0.943,1)" fill="#000" stroke="#000" stroke-width="0.15" font-size="9.6" >100</text>
<text transform="translate(1615.80,716.00) scale(0.943,1)" fill="#000" stroke="#000" stroke-width="0.15" font-size="9.6" >80</text>
<text transform="translate(1615.80,751.00) scale(0.943,1)" fill="#000" stroke="#000" stroke-width="0.15" font-size="9.6" >50</text>
<text transform="translate(1616.20,793.00) scale(0.943,1)" fill="#000" stroke="#000" stroke-width="0.15" font-size="9.6" >15</text>
<text transform="translate(1617.00,804.00) scale(0.943,1)" fill="#000" stroke="#000" stroke-width="0.15" font-size="9.6" >0</text>
</g>
<g shape-rendering="crispEdges">
<rect x="1615" y="155" width="41" height="11" fill="#ff0000"/>
<rect x="1615" y="187" width="41" height="11" fill="#ff0000"/>
<rect x="1615" y="216" width="41" height="11" fill="#ffa500"/>
<rect x="1615" y="236" width="41" height="11" fill="#000"/>
<rect x="1615" y="272" width="41" height="11" fill="#0000ff"/>
<rect x="1615" y="299" width="41" height="11" fill="#0000ff"/>
<rect x="1607.5" y="275.5" width="5" height="5" fill="#fff" stroke="#0000ff" stroke-width="1"/>
<rect x="1607.5" y="302.5" width="5" height="5" fill="#fff" stroke="#0000ff" stroke-width="1"/>
</g>
<g font-family="Liberation Sans, sans-serif">
<text transform="translate(1619.20,164.40) scale(0.943,1)" fill="#fff" stroke="#fff" stroke-width="0.15" font-size="9.6" >1.29495</text>
<text transform="translate(1619.20,196.40) scale(0.943,1)" fill="#fff" stroke="#fff" stroke-width="0.15" font-size="9.6" >1.29124</text>
<text transform="translate(1619.20,225.40) scale(0.943,1)" fill="#fff" stroke="#fff" stroke-width="0.15" font-size="9.6" >1.28782</text>
<text transform="translate(1619.20,245.40) scale(0.943,1)" fill="#fff" stroke="#fff" stroke-width="0.15" font-size="9.6" >1.28562</text>
<text transform="translate(1619.20,281.40) scale(0.943,1)" fill="#fff" stroke="#fff" stroke-width="0.15" font-size="9.6" >1.28138</text>
<text transform="translate(1619.20,308.40) scale(0.943,1)" fill="#fff" stroke="#fff" stroke-width="0.15" font-size="9.6" >1.27826</text>
<text transform="translate(2.20,36.00) scale(0.990,1)" fill="#000" stroke="#000" stroke-width="0.15" font-size="9.6" >USDCAD-,H4</text>
<text transform="translate(66.90,36.00) scale(0.943,1)" fill="#000" stroke="#000" stroke-width="0.15" font-size="9.6" word-spacing="1.2">1.28548 1.28583 1.28533 1.28562</text>
<text transform="translate(-7.20,563.00) scale(0.960,1)" fill="#000" stroke="#000" stroke-width="0.15" font-size="9.6" >MACD(12,26,9) -0.000930 -0.000390</text>
<text transform="translate(-8.60,700.00) scale(0.955,1)" fill="#000" stroke="#000" stroke-width="0.15" font-size="9.6" >RSI(14) 43.3715</text>
</g>
<g shape-rendering="crispEdges" fill="#000">
<rect x="51" y="808" width="1" height="3"/>
<rect x="115" y="808" width="1" height="3"/>
<rect x="179" y="808" width="1" height="3"/>
<rect x="243" y="808" width="1" height="3"/>
<rect x="307" y="808" width="1" height="3"/>
<rect x="371" y="808" width="1" height="3"/>
<rect x="435" y="808" width="1" height="3"/>
<rect x="499" y="808" width="1" height="3"/>
<rect x="563" y="808" width="1" height="3"/>
<rect x="627" y="808" width="1" height="3"/>
<rect x="691" y="808" width="1" height="3"/>
<rect x="755" y="808" width="1" height="3"/>
<rect x="819" y="808" width="1" height="3"/>
<rect x="883" y="808" width="1" height="3"/>
<rect x="947" y="808" width="1" height="3"/>
<rect x="1011" y="808" width="1" height="3"/>
<rect x="1075" y="808" width="1" height="3"/>
<rect x="1139" y="808" width="1" height="3"/>
<rect x="1203" y="808" width="1" height="3"/>
<rect x="1267" y="808" width="1" height="3"/>
</g>
<g font-family="Liberation Sans, sans-serif">
<text transform="translate(-13.80,820.00) scale(0.985,1)" fill="#000" stroke="#000" stroke-width="0.15" font-size="9.6" >27 May 2022</text>
<text transform="translate(50.20,820.00) scale(0.985,1)" fill="#000" stroke="#000" stroke-width="0.15" font-size="9.6" >30 May 12:00</text>
<text transform="translate(114.20,820.00) scale(0.985,1)" fill="#000" stroke="#000" stroke-width="0.15" font-size="9.6" >31 May 20:00</text>
<text transform="translate(178.20,820.00) scale(0.985,1)" fill="#000" stroke="#000" stroke-width="0.15" font-size="9.6" >2 Jun 04:00</text>
<text transform="translate(242.20,820.00) scale(0.985,1)" fill="#000" stroke="#000" stroke-width="0.15" font-size="9.6" >3 Jun 12:00</text>
<text transform="translate(306.20,820.00) scale(0.985,1)" fill="#000" stroke="#000" stroke-width="0.15" font-size="9.6" >6 Jun 20:00</text>
<text transform="translate(370.20,820.00) scale(0.985,1)" fill="#000" stroke="#000" stroke-width="0.15" font-size="9.6" >8 Jun 04:00</text>
<text transform="translate(434.20,820.00) scale(0.985,1)" fill="#000" stroke="#000" stroke-width="0.15" font-size="9.6" >9 Jun 12:00</text>
<text transform="translate(498.20,820.00) scale(0.985,1)" fill="#000" stroke="#000" stroke-width="0.15" font-size="9.6" >12 Jun 23:00</text>
<text transform="translate(562.20,820.00) scale(0.985,1)" fill="#000" stroke="#000" stroke-width="0.15" font-size="9.6" >14 Jun 04:00</text>
<text transform="translate(626.20,820.00) scale(0.985,1)" fill="#000" stroke="#000" stroke-width="0.15" font-size="9.6" >15 Jun 12:00</text>
<text transform="translate(690.20,820.00) scale(0.985,1)" fill="#000" stroke="#000" stroke-width="0.15" font-size="9.6" >16 Jun 20:00</text>
<text transform="translate(754.20,820.00) scale(0.985,1)" fill="#000" stroke="#000" stroke-width="0.15" font-size="9.6" >20 Jun 04:00</text>
<text transform="translate(818.20,820.00) scale(0.985,1)" fill="#000" stroke="#000" stroke-width="0.15" font-size="9.6" >21 Jun 12:00</text>
<text transform="translate(882.20,820.00) scale(0.985,1)" fill="#000" stroke="#000" stroke-width="0.15" font-size="9.6" >22 Jun 20:00</text>
<text transform="translate(946.20,820.00) scale(0.985,1)" fill="#000" stroke="#000" stroke-width="0.15" font-size="9.6" >24 Jun 04:00</text>
<text transform="translate(1010.20,820.00) scale(0.985,1)" fill="#000" stroke="#000" stroke-width="0.15" font-size="9.6" >27 Jun 12:00</text>
<text transform="translate(1074.20,820.00) scale(0.985,1)" fill="#000" stroke="#000" stroke-width="0.15" font-size="9.6" >28 Jun 20:00</text>
<text transform="translate(1138.20,820.00) scale(0.985,1)" fill="#000" stroke="#000" stroke-width="0.15" font-size="9.6" >30 Jun 04:00</text>
<text transform="translate(1202.20,820.00) scale(0.985,1)" fill="#000" stroke="#000" stroke-width="0.15" font-size="9.6" >1 Jul 12:00</text>
<text transform="translate(1266.20,820.00) scale(0.985,1)" fill="#000" stroke="#000" stroke-width="0.15" font-size="9.6" >4 Jul 20:00</text>
</g>
</svg>
</body></html>
